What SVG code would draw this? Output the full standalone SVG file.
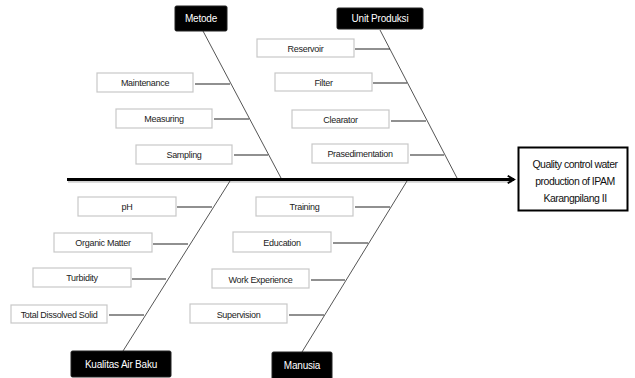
<svg xmlns="http://www.w3.org/2000/svg" width="635" height="378" viewBox="0 0 635 378">
<defs>
<marker id="ah" viewBox="0 0 10 10" refX="8" refY="5" markerWidth="3.2" markerHeight="4" orient="auto" markerUnits="strokeWidth">
<path d="M1,0.8 L8,5 L1,9.2" fill="none" stroke="#000" stroke-width="2.2"/>
</marker>
</defs>
<style>
.cause rect{fill:#fff;stroke:#c8c8c8;stroke-width:1.2}
.cause text{font-family:"Liberation Sans",Arial,sans-serif;font-size:9px;fill:#222;text-anchor:middle;dominant-baseline:central;letter-spacing:-0.3px}
.head rect{fill:#000;stroke:#222;stroke-width:1}
.head text{font-family:"Liberation Sans",Arial,sans-serif;font-size:10px;fill:#fff;text-anchor:middle;dominant-baseline:central;letter-spacing:-0.2px}
.bone{stroke:#555;stroke-width:1;fill:none}
.rib{stroke:#222;stroke-width:1.2;fill:none}
.effect text{font-family:"Liberation Sans",Arial,sans-serif;font-size:10.5px;fill:#111;text-anchor:middle;dominant-baseline:central;letter-spacing:-0.5px}
</style>
<rect width="635" height="378" fill="#fff"/>
<g id="connectors">
<line x1="68" y1="181.5" x2="512" y2="181.5" stroke="#000" stroke-opacity="0.18" stroke-width="2.5"/>
<line x1="67" y1="179.5" x2="514" y2="179.5" stroke="#000" stroke-width="2.8" marker-end="url(#ah)"/>
<line class="bone" x1="203" y1="31" x2="281" y2="178"/>
<line class="bone" x1="380" y1="30" x2="457" y2="178"/>
<line class="bone" x1="230" y1="181" x2="123" y2="351"/>
<line class="bone" x1="407" y1="181" x2="302" y2="352"/>
<line class="rib" x1="195" y1="84" x2="230" y2="84"/>
<line class="rib" x1="214" y1="119" x2="249" y2="119"/>
<line class="rib" x1="234" y1="155" x2="268" y2="155"/>
<line class="rib" x1="355" y1="49" x2="390" y2="49"/>
<line class="rib" x1="373" y1="83" x2="407" y2="83"/>
<line class="rib" x1="391" y1="121" x2="426" y2="121"/>
<line class="rib" x1="410" y1="155" x2="444" y2="155"/>
<line class="rib" x1="177" y1="207" x2="212" y2="207"/>
<line class="rib" x1="153" y1="244" x2="188" y2="244"/>
<line class="rib" x1="132" y1="279" x2="166" y2="279"/>
<line class="rib" x1="109" y1="315" x2="144" y2="315"/>
<line class="rib" x1="355" y1="207" x2="390" y2="207"/>
<line class="rib" x1="333" y1="243" x2="368" y2="243"/>
<line class="rib" x1="311" y1="280" x2="345" y2="280"/>
<line class="rib" x1="289" y1="315" x2="324" y2="315"/>
</g>
<g id="metode" class="head"><rect x="175" y="6" width="52" height="25" rx="1.5"/><text x="201" y="18.5">Metode</text></g>
<g id="unit-produksi" class="head"><rect x="337" y="8" width="86" height="21" rx="1.5"/><text x="380" y="18.5">Unit Produksi</text></g>
<g id="kualitas-air-baku" class="head"><rect x="71" y="351" width="100" height="26" rx="1.5"/><text x="121" y="364">Kualitas Air Baku</text></g>
<g id="manusia" class="head"><rect x="272" y="352" width="60" height="28" rx="1.5"/><text x="302" y="365">Manusia</text></g>
<g id="maintenance" class="cause"><rect x="97" y="73" width="96" height="19"/><text x="145" y="83">Maintenance</text></g>
<g id="measuring" class="cause"><rect x="116" y="109" width="96" height="19"/><text x="164" y="119">Measuring</text></g>
<g id="sampling" class="cause"><rect x="136" y="145" width="96" height="19"/><text x="184" y="155">Sampling</text></g>
<g id="reservoir" class="cause"><rect x="257" y="39" width="97" height="18"/><text x="305.5" y="48.5">Reservoir</text></g>
<g id="filter" class="cause"><rect x="275" y="73" width="97" height="18"/><text x="323.5" y="82.5">Filter</text></g>
<g id="clearator" class="cause"><rect x="292" y="110" width="97" height="18"/><text x="340.5" y="120">Clearator</text></g>
<g id="prasedimentation" class="cause"><rect x="312" y="144" width="96" height="19"/><text x="360" y="154">Prasedimentation</text></g>
<g id="ph" class="cause"><rect x="78" y="197" width="98" height="19"/><text x="127" y="207">pH</text></g>
<g id="organic-matter" class="cause"><rect x="54" y="233" width="98" height="19"/><text x="103" y="243">Organic Matter</text></g>
<g id="turbidity" class="cause"><rect x="33" y="268" width="98" height="19"/><text x="82" y="278">Turbidity</text></g>
<g id="total-dissolved-solid" class="cause"><rect x="11" y="305" width="96" height="18"/><text x="59" y="314.5">Total Dissolved Solid</text></g>
<g id="training" class="cause"><rect x="256" y="197" width="97" height="19"/><text x="304.5" y="207">Training</text></g>
<g id="education" class="cause"><rect x="233" y="232" width="98" height="20"/><text x="282" y="242.5">Education</text></g>
<g id="work-experience" class="cause"><rect x="212" y="269" width="97" height="19"/><text x="260.5" y="279.5">Work Experience</text></g>
<g id="supervision" class="cause"><rect x="190" y="304" width="97" height="19"/><text x="238.5" y="314.5">Supervision</text></g>
<g id="effect" class="effect"><rect x="518.5" y="147.5" width="109" height="63" fill="#fff" stroke="#000" stroke-width="2"/>
<text x="575" y="164">Quality control water</text>
<text x="575" y="181">production of IPAM</text>
<text x="575" y="198">Karangpilang II</text></g>
</svg>
